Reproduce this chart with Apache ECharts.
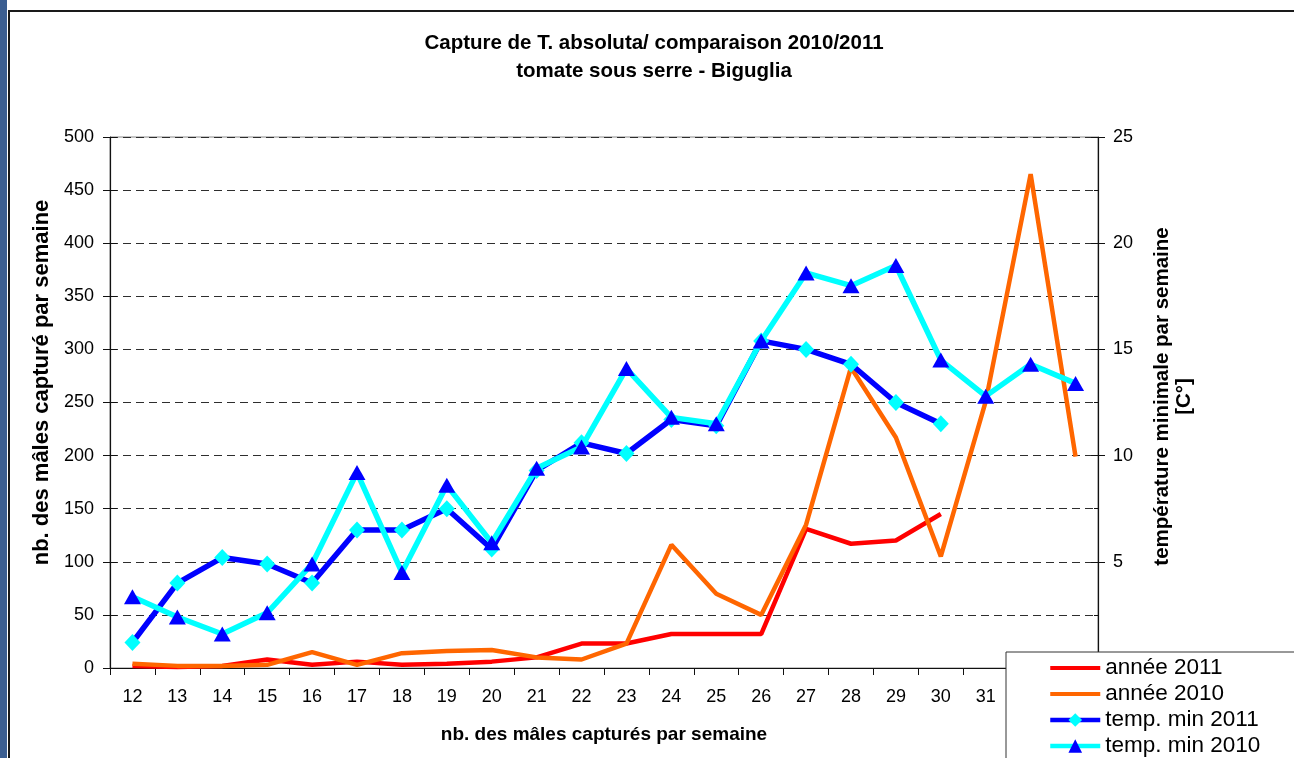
<!DOCTYPE html>
<html>
<head>
<meta charset="utf-8">
<script src="https://cdn.jsdelivr.net/npm/echarts@6/dist/echarts.min.js"></script>
<style>
html,body{margin:0;padding:0;background:#fff;}
#chart{width:1294px;height:758px;}
</style>
</head>
<body>
<div id="chart"></div>
<script>
// ---- data ----
const weeks = ['12','13','14','15','16','17','18','19','20','21','22','23','24','25','26','27','28','29','30','31','32','33'];
const captures2011 = [2, 1, 2, 8, 3, 6, 3, 4, 6, 10, 23, 23, 32, 32, 32, 131, 117, 120, 145];
const captures2010 = [4, 2, 2, 3, 15, 3, 14, 16, 17, 10, 8, 23, 116, 70, 50, 135, 283, 217, 105, 251, 465, 199];
const tempMin2011 = [1.2, 4.0, 5.2, 4.9, 4.0, 6.5, 6.5, 7.5, 5.6, 9.3, 10.6, 10.1, 11.7, 11.4, 15.4, 15.0, 14.3, 12.5, 11.5];
const tempMin2010 = [3.35, 2.4, 1.6, 2.6, 4.9, 9.2, 4.5, 8.6, 5.9, 9.4, 10.4, 14.1, 11.8, 11.5, 15.4, 18.6, 18.0, 18.95, 14.5, 12.8, 14.3, 13.4];
const leftTicks = {min: 0, max: 500, interval: 50};
const rightTicks = {min: 0, max: 25, interval: 5};
const seriesNames = ['année 2011', 'année 2010', 'temp. min 2011', 'temp. min 2010'];

const FONT = "'Liberation Sans', Arial, sans-serif";
const chart = echarts.init(document.getElementById('chart'), null, {renderer: 'canvas'});

// plain line legend icon (thin bar inside an itemWidth x itemHeight box)
const lineIcon = 'path://M0,0L0.01,0L0,0.01Z M0,6.5L50,6.5L50,10.5L0,10.5Z M50,17L49.99,17L50,16.99Z';

const option = {
  animation: false,
  backgroundColor: '#fff',
  textStyle: {fontFamily: FONT, color: '#000'},
  graphic: [
    {type: 'rect', shape: {x: 0, y: 0, width: 7, height: 758}, style: {fill: '#3B5E91'}, z: 100, silent: true},
    {type: 'rect', shape: {x: 9, y: 11, width: 1400, height: 1000}, style: {fill: null, stroke: '#1a1a1a', lineWidth: 2}, z: 100, silent: true}
  ],
  title: {
    text: 'Capture de T. absoluta/ comparaison 2010/2011\ntomate sous serre - Biguglia',
    left: 649, top: 24, textAlign: 'center', padding: 5,
    textStyle: {fontFamily: FONT, fontSize: 20.5, fontWeight: 'bold', lineHeight: 28, color: '#000'}
  },
  legend: {
    data: [
      {name: seriesNames[0], icon: lineIcon},
      {name: seriesNames[1], icon: lineIcon},
      {name: seriesNames[2]},
      {name: seriesNames[3]}
    ],
    orient: 'vertical',
    left: 1006, top: 652, height: 400,
    padding: [3, 60, 20, 42],
    itemGap: 0,
    itemWidth: 50, itemHeight: 17,
    backgroundColor: '#fff',
    borderColor: '#333', borderWidth: 1,
    lineStyle: {width: 4.5},
    z: 50,
    textStyle: {fontFamily: FONT, fontSize: 22.5, color: '#000', lineHeight: 26}
  },
  grid: {left: 110, right: 196, top: 137, bottom: 90, show: true, borderColor: '#8a8a8a', borderWidth: 1, backgroundColor: '#fff'},
  xAxis: {
    type: 'category',
    data: weeks,
    boundaryGap: true,
    name: 'nb. des mâles capturés par semaine',
    nameLocation: 'middle', nameGap: 57,
    nameTextStyle: {fontFamily: FONT, fontSize: 19, fontWeight: 'bold', color: '#000'},
    axisLine: {lineStyle: {color: '#111', width: 1.2}},
    axisTick: {show: true, inside: false, length: 7, alignWithLabel: false, lineStyle: {color: '#111'}},
    axisLabel: {fontFamily: FONT, fontSize: 18, color: '#000', margin: 20, interval: 0},
    splitLine: {show: false}
  },
  yAxis: [
    {
      type: 'value', position: 'left',
      min: leftTicks.min, max: leftTicks.max, interval: leftTicks.interval,
      name: 'nb. des mâles capturé par semaine',
      nameLocation: 'middle', nameGap: 52,
      nameTextStyle: {fontFamily: FONT, fontSize: 22, fontWeight: 'bold', color: '#000', padding: [0, 0, 0, 40]},
      axisLine: {show: true, lineStyle: {color: '#111', width: 1.2}},
      axisTick: {show: true, inside: false, length: 7, lineStyle: {color: '#111'}},
      axisLabel: {fontFamily: FONT, fontSize: 18, color: '#000', margin: 16},
      splitLine: {show: true, lineStyle: {color: '#2e2e2e', type: [8, 5], width: 1}}
    },
    {
      type: 'value', position: 'right',
      min: rightTicks.min, max: rightTicks.max, interval: rightTicks.interval,
      name: 'température minimale par semaine\n[C°]',
      nameLocation: 'middle', nameGap: 53,
      nameTextStyle: {fontFamily: FONT, fontSize: 20.5, fontWeight: 'bold', color: '#000', lineHeight: 22, align: 'center', padding: [0, 0, 0, 12]},
      axisLine: {show: true, lineStyle: {color: '#111', width: 1.2}},
      axisTick: {show: true, inside: false, length: 7, lineStyle: {color: '#111'}},
      axisLabel: {fontFamily: FONT, fontSize: 18, color: '#000', margin: 15},
      splitLine: {show: false}
    },
    {
      type: 'value', position: 'left',
      min: leftTicks.min, max: leftTicks.max, interval: leftTicks.interval,
      axisLine: {show: false},
      axisTick: {show: true, inside: true, length: 7, lineStyle: {color: '#111'}},
      axisLabel: {show: false},
      splitLine: {show: false}
    },
    {
      type: 'value', position: 'right',
      min: rightTicks.min, max: rightTicks.max, interval: rightTicks.interval,
      axisLine: {show: false},
      axisTick: {show: true, inside: true, length: 7, lineStyle: {color: '#111'}},
      minorTick: {show: true, splitNumber: 2, length: 4, lineStyle: {color: '#111'}},
      axisLabel: {show: false},
      splitLine: {show: false}
    }
  ],
  series: [
    {
      name: seriesNames[0], type: 'line', yAxisIndex: 0, data: captures2011,
      symbol: 'none', lineStyle: {color: '#FF0000', width: 4.5}, itemStyle: {color: '#FF0000'}, z: 2
    },
    {
      name: seriesNames[1], type: 'line', yAxisIndex: 0, data: captures2010,
      symbol: 'none', lineStyle: {color: '#FF6600', width: 4.5}, itemStyle: {color: '#FF6600'}, z: 3
    },
    {
      name: seriesNames[2], type: 'line', yAxisIndex: 1, data: tempMin2011,
      symbol: 'diamond', symbolSize: [16, 17], showAllSymbol: true,
      lineStyle: {color: '#0000FF', width: 5.5}, itemStyle: {color: '#00FFFF', borderWidth: 0}, z: 4
    },
    {
      name: seriesNames[3], type: 'line', yAxisIndex: 1, data: tempMin2010,
      symbol: 'triangle', symbolSize: [17, 15], showAllSymbol: true,
      lineStyle: {color: '#00FFFF', width: 5.5}, itemStyle: {color: '#0000FF', borderWidth: 0}, z: 5
    }
  ]
};
chart.setOption(option);
</script>
</body>
</html>
